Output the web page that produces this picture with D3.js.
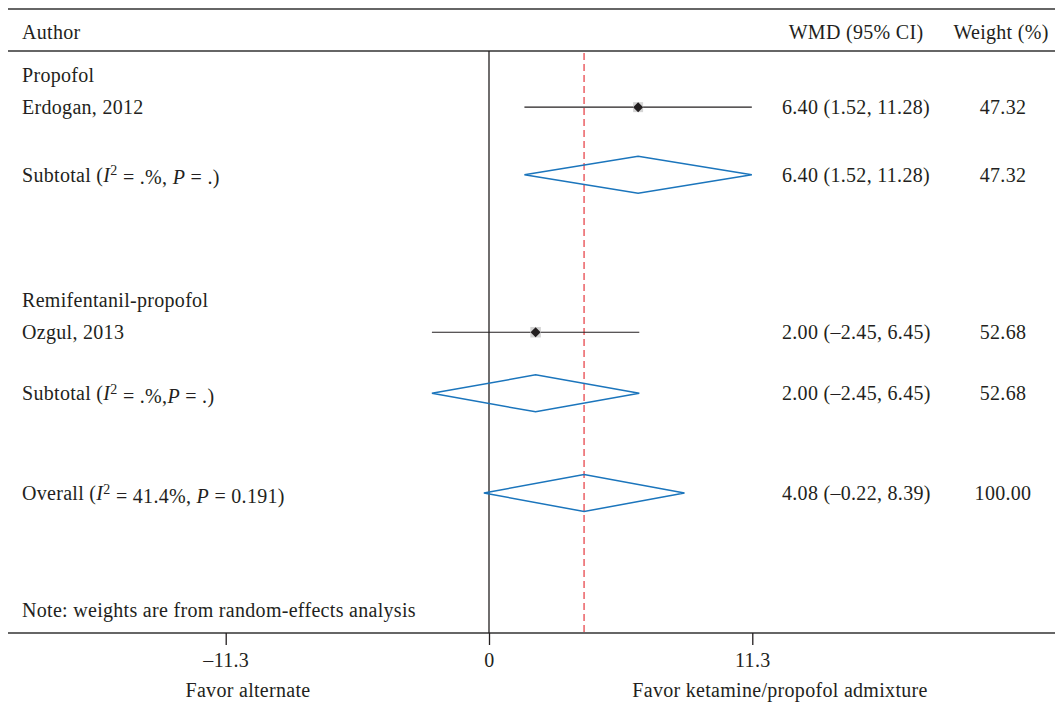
<!DOCTYPE html>
<html>
<head>
<meta charset="utf-8">
<script src="https://cdn.jsdelivr.net/npm/d3@7"></script>
<style>
  body { margin: 0; background: #fff; }
  text { font-family: 'Liberation Serif', 'DejaVu Serif', serif; font-size: 20px; letter-spacing: 0.3px; fill: #231f20; }
</style>
</head>
<body>
<div id="chart"></div>
<script>
// rows of the forest plot, in display order (row = slot index)
var rowKinds = ['group', 'study', 'subtotal', 'group', 'study', 'subtotal', 'overall'];
var rowSlots = [0, 1, 3.1, 7, 8, 9.9, 13];
var rowLabels = ['Propofol', 'Erdogan, 2012', 'Subtotal', 'Remifentanil-propofol', 'Ozgul, 2013', 'Subtotal', 'Overall'];
var rowStats = [null, null, ['.%', '.', ', '], null, null, ['.%', '.', ','], ['41.4%', '0.191', ', ']];
var rowEst = [null, 6.40, 6.40, null, 2.00, 2.00, 4.08];
var rowLo = [null, 1.52, 1.52, null, -2.45, -2.45, -0.22];
var rowHi = [null, 11.28, 11.28, null, 6.45, 6.45, 8.39];
var rowWmd = ['', '6.40 (1.52, 11.28)', '6.40 (1.52, 11.28)', '', '2.00 (\u20132.45, 6.45)', '2.00 (\u20132.45, 6.45)', '4.08 (\u20130.22, 8.39)'];
var rowWeight = ['', '47.32', '47.32', '', '52.68', '52.68', '100.00'];

var tickValues = [-11.3, 0, 11.3];
var overallEffect = 4.08;
var headers = ['Author', 'WMD (95% CI)', 'Weight (%)'];
var noteText = 'Note: weights are from random-effects analysis';
var leftTitle = 'Favor alternate';
var rightTitle = 'Favor ketamine/propofol admixture';

var W = 1055, H = 705;
var INK = '#231f20';
var LINE = '#333333';
var BLUE = '#1b75bc';
var RED = '#e8474c';

var TOP = 9, HEAD = 51, BOTTOM = 633;
var ZERO_X = 489, PX = 23.3;

var svg = d3.select('#chart').append('svg')
  .attr('width', W)
  .attr('height', H);

var x = d3.scaleLinear()
  .domain([-11.3, 11.3])
  .range([ZERO_X - 11.3 * PX, ZERO_X + 11.3 * PX]);

var y = d3.scaleLinear()
  .domain([0, 13])
  .range([75, 493]);

// horizontal rules
[TOP, HEAD, BOTTOM].forEach(function(yy) {
  svg.append('line')
    .attr('x1', 8).attr('x2', W)
    .attr('y1', yy).attr('y2', yy)
    .style('stroke', LINE)
    .style('stroke-width', 1.4);
});

// header
svg.append('text').attr('x', 22).attr('y', 32).attr('dy', '0.35em').text(headers[0]);
svg.append('text').attr('x', 856).attr('y', 32).attr('dy', '0.35em').attr('text-anchor', 'middle').text(headers[1]);
svg.append('text').attr('x', 1001).attr('y', 32).attr('dy', '0.35em').attr('text-anchor', 'middle').text(headers[2]);

// zero line
svg.append('line')
  .attr('x1', x(0)).attr('x2', x(0))
  .attr('y1', HEAD).attr('y2', BOTTOM)
  .style('stroke', INK)
  .style('stroke-width', 1.3);

// overall effect line
svg.append('line')
  .attr('x1', x(overallEffect)).attr('x2', x(overallEffect))
  .attr('y1', HEAD + 2).attr('y2', BOTTOM)
  .style('stroke', RED)
  .style('stroke-width', 1.3)
  .style('stroke-dasharray', '7,4');

// labels
rowLabels.forEach(function(label, i) {
  var t = svg.append('text')
    .attr('x', 22)
    .attr('y', y(rowSlots[i]))
    .attr('dy', '0.35em');
  if (!rowStats[i]) {
    t.text(label);
    return;
  }
  var st = rowStats[i];
  t.append('tspan').text(label + ' (');
  t.append('tspan').style('font-style', 'italic').text('I');
  t.append('tspan').attr('dy', '-0.45em').style('font-size', '14px').text('2');
  t.append('tspan').attr('dy', '0.45em').text(' = ' + st[0] + st[2]);
  t.append('tspan').style('font-style', 'italic').text('P');
  t.append('tspan').text(' = ' + st[1] + ')');
});

// right columns
rowWmd.forEach(function(txt, i) {
  if (!txt) return;
  var ty = y(rowSlots[i]);
  svg.append('text').attr('x', 782).attr('y', ty).attr('dy', '0.35em').text(txt);
  svg.append('text').attr('x', 1003).attr('y', ty).attr('dy', '0.35em')
    .attr('text-anchor', 'middle').text(rowWeight[i]);
});

// studies: CI line, weight box, point
rowKinds.forEach(function(kind, i) {
  var cy = y(rowSlots[i]);
  if (kind === 'study') {
    svg.append('line')
      .attr('x1', x(rowLo[i])).attr('x2', x(rowHi[i]))
      .attr('y1', cy).attr('y2', cy)
      .style('stroke', INK)
      .style('stroke-width', 1.2);
    var box = Math.sqrt(+rowWeight[i]) * 1.45;
    svg.append('rect')
      .attr('x', x(rowEst[i]) - box / 2).attr('y', cy - box / 2)
      .attr('width', box).attr('height', box)
      .style('fill', '#d4d4d4');
    svg.append('path')
      .attr('d', d3.symbol().type(d3.symbolDiamond2).size(64))
      .attr('transform', 'translate(' + x(rowEst[i]) + ',' + cy + ')')
      .style('fill', INK);
  } else if (kind === 'subtotal' || kind === 'overall') {
    var h = 18.5;
    var pts = [[x(rowLo[i]), cy], [x(rowEst[i]), cy - h], [x(rowHi[i]), cy], [x(rowEst[i]), cy + h]];
    svg.append('path')
      .attr('d', d3.line()(pts) + 'Z')
      .style('fill', 'none')
      .style('stroke', BLUE)
      .style('stroke-width', 1.5);
  }
});

// note
svg.append('text').attr('x', 22).attr('y', 610).attr('dy', '0.35em').text(noteText);

// axis
var axis = svg.append('g')
  .attr('transform', 'translate(0,' + BOTTOM + ')')
  .call(d3.axisBottom(x)
    .tickValues(tickValues)
    .tickSize(12)
    .tickPadding(8)
    .tickFormat(function(v) { return v < 0 ? '\u2013' + Math.abs(v) : String(v); }));
axis.select('.domain').remove();
axis.selectAll('.tick line').style('stroke', INK).style('stroke-width', 1.3);
axis.selectAll('.tick text')
  .style('font-family', "'Liberation Serif', 'DejaVu Serif', serif")
  .style('font-size', '20px')
  .style('letter-spacing', '0.3px')
  .style('fill', INK);

svg.append('text').attr('x', 248).attr('y', 690).attr('dy', '0.35em').attr('text-anchor', 'middle').text(leftTitle);
svg.append('text').attr('x', 780).attr('y', 690).attr('dy', '0.35em').attr('text-anchor', 'middle').text(rightTitle);
</script>
</body>
</html>
